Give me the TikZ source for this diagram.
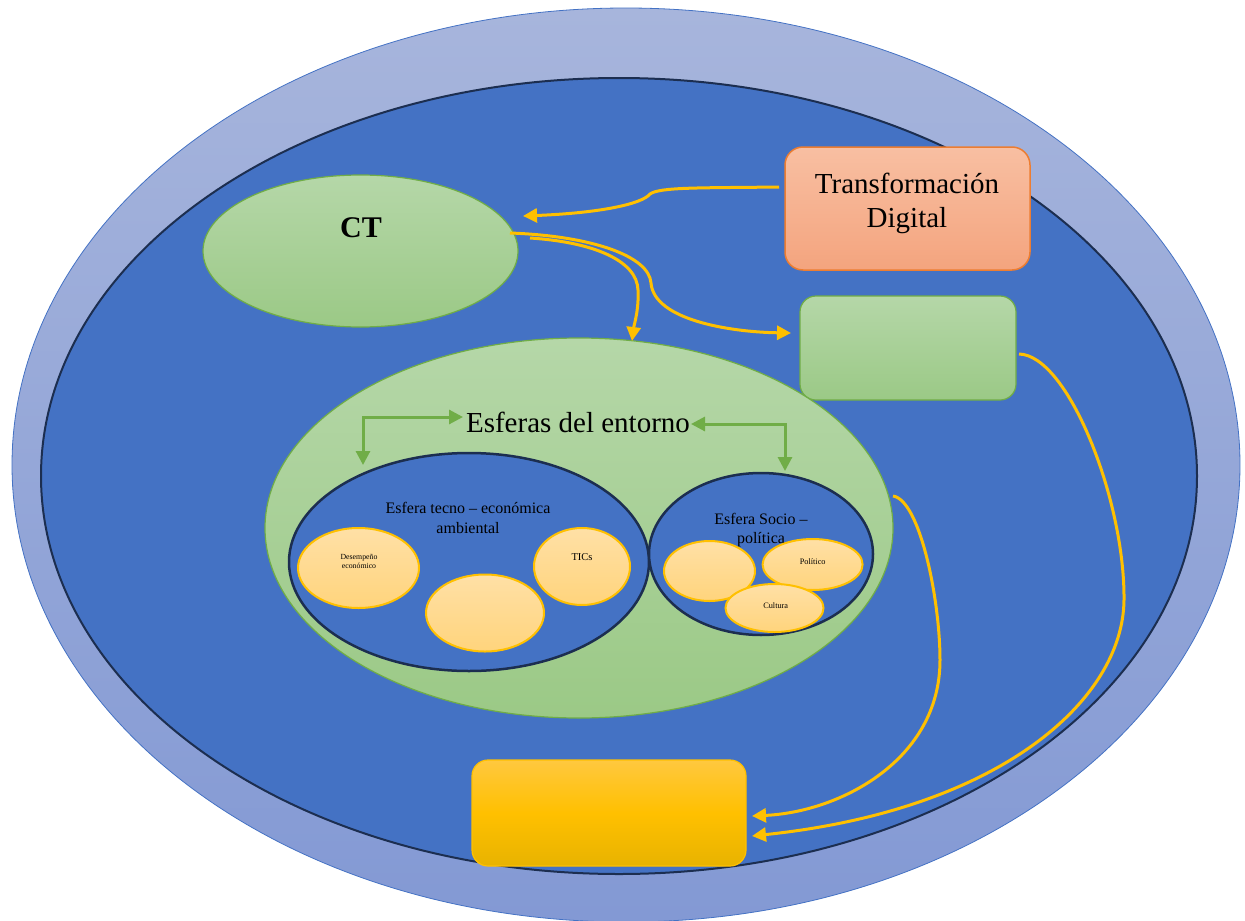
\documentclass[tikz,border=0pt]{standalone}
\usepackage{fontspec}
\setmainfont{Liberation Serif}
\usetikzlibrary{shapes.geometric,arrows.meta}
\definecolor{ringT}{HTML}{A7B5DC}
\definecolor{ringB}{HTML}{8399D4}
\definecolor{blueIn}{HTML}{4472C4}
\definecolor{navy}{HTML}{1C2E50}
\definecolor{gT}{HTML}{B5D7A8}
\definecolor{gB}{HTML}{9BC986}
\definecolor{gBorder}{HTML}{70AD47}
\definecolor{oT}{HTML}{F8BFA2}
\definecolor{oB}{HTML}{F4A47E}
\definecolor{oBorder}{HTML}{ED7D31}
\definecolor{yT}{HTML}{FFC83F}
\definecolor{yM}{HTML}{FFC000}
\definecolor{yB}{HTML}{E8B300}
\definecolor{cT}{HTML}{FFE0A6}
\definecolor{cB}{HTML}{FFD47C}
\definecolor{yArr}{HTML}{FFC000}
\begin{document}
\begin{tikzpicture}[x=1pt,y=-1pt,
  ell/.style={ellipse,inner sep=0pt},
  greenfill/.style={top color=gT,bottom color=gB,draw=gBorder,line width=1.2pt},
  darkell/.style={ellipse,inner sep=0pt,fill=blueIn,draw=navy,line width=2.5pt},
  yel/.style={ellipse,inner sep=0pt,top color=cT,bottom color=cB,draw=yArr,line width=2pt},
  yarrow/.style={draw=yArr,line width=3pt,-{Triangle[length=14pt,width=14pt]}},
  garrow/.style={draw=gBorder,line width=3pt,{Triangle[length=14pt,width=14pt]}-{Triangle[length=14pt,width=14pt]}},
  txt/.style={anchor=base,inner sep=0pt,text=black}]
\useasboundingbox (0,0) rectangle (1245,921);
% background ellipses
\node[ell,minimum width=1228pt,minimum height=914pt,top color=ringT,bottom color=ringB,draw=blueIn,line width=0.8pt] (outer) at (626,465) {};
\node[ell,minimum width=1156pt,minimum height=796pt,fill=blueIn,draw=navy,line width=2pt] (inner) at (619,476) {};
% CT
\node[ell,greenfill,minimum width=315pt,minimum height=152pt] (ct) at (360.5,251) {};
\node[txt,font=\bfseries\fontsize{30}{34}\selectfont] (ctlabel) at (361,237) {CT};
% Transformacion Digital
\node[rectangle,rounded corners=18pt,minimum width=245pt,minimum height=123pt,top color=oT,bottom color=oB,draw=oBorder,line width=1.5pt] (td) at (907.5,208.5) {};
\node[txt,font=\fontsize{29}{34}\selectfont] (td1) at (907,193) {Transformación};
\node[txt,font=\fontsize{29}{34}\selectfont] (td2) at (907,227) {Digital};
% green box
\node[rectangle,rounded corners=16pt,minimum width=216pt,minimum height=104pt,greenfill] (gb) at (908,348) {};
% yellow box
\node[rectangle,rounded corners=16pt,minimum width=274pt,minimum height=106pt,top color=yT,bottom color=yB,middle color=yM,draw=yM,line width=1.2pt] (yb) at (609,813) {};
% Esferas
\node[ell,greenfill,minimum width=628pt,minimum height=380pt] (esf) at (579,528) {};
\node[txt,font=\fontsize{29}{34}\selectfont] (esftext) at (578,432) {Esferas del entorno};
\node[darkell,minimum width=360pt,minimum height=218pt] (tec) at (469,562) {};
\node[darkell,minimum width=224pt,minimum height=162pt] (soc) at (761,554) {};
\node[txt,font=\fontsize{16}{20}\selectfont] (tec1) at (468,513) {Esfera tecno – económica};
\node[txt,font=\fontsize{16}{20}\selectfont] (tec2) at (468,533) {ambiental};
% small ellipses
\node[yel,minimum width=121pt,minimum height=80pt] (des) at (358.5,568) {};
\node[yel,minimum width=118pt,minimum height=77pt] (mid) at (485,613) {};
\node[yel,minimum width=96pt,minimum height=77pt] (tic) at (582,566.5) {};
\node[txt,font=\fontsize{7.8}{9.5}\selectfont] (des1) at (359,559) {Desempeño};
\node[txt,font=\fontsize{7.8}{9.5}\selectfont] (des2) at (359,568.7) {económico};
\node[txt,font=\fontsize{10.5}{12}\selectfont] (tictext) at (582,560) {TICs};
\node[txt,font=\fontsize{16}{20}\selectfont] (soc1) at (761,524) {Esfera Socio –};
\node[txt,font=\fontsize{16}{20}\selectfont] (soc2) at (761,543.5) {política};
\node[yel,minimum width=91pt,minimum height=60pt] (blank) at (709.5,571) {};
\node[yel,minimum width=100pt,minimum height=51pt] (pol) at (812.6,564.5) {};
\node[yel,minimum width=98pt,minimum height=48pt] (cul) at (774.5,608) {};
\node[txt,font=\fontsize{8.3}{10}\selectfont] (poltext) at (812.7,564.3) {Político};
\node[txt,font=\fontsize{8.3}{10}\selectfont] (cultext) at (775.7,608.7) {Cultura};
% green arrows
\coordinate (gl1) at (463,417);
\coordinate (gl2) at (363,465);
\coordinate (gr1) at (691,424);
\coordinate (gr2) at (785,471);
\draw[garrow] (gl1) -| (gl2);
\draw[garrow] (gr1) -| (gr2);
% yellow arrows
\coordinate (a1s) at (779,187);
\coordinate (a1e) at (523,216);
\draw[yarrow] (a1s) .. controls (700,188) and (660,187) .. (650,194) .. controls (642,204) and (600,213) .. (a1e);
\coordinate (a2s) at (530,238);
\coordinate (a2e) at (632,341);
\draw[yarrow] (a2s) .. controls (592,242) and (637,260) .. (638,290) .. controls (639,310) and (634,325) .. (a2e);
\coordinate (a3s) at (510,233);
\coordinate (a3e) at (791,333);
\draw[yarrow] (a3s) .. controls (592,236) and (649,256) .. (651,283) .. controls (654,320) and (730,332) .. (a3e);
\coordinate (a4s) at (893,496);
\coordinate (a4e) at (752,816);
\draw[yarrow] (a4s) .. controls (920,500) and (940,600) .. (940,660) .. controls (940,760) and (840,812) .. (a4e);
\coordinate (a5s) at (1019,354);
\coordinate (a5e) at (752,836);
\draw[yarrow] (a5s) .. controls (1068,355) and (1125,500) .. (1124,600) .. controls (1123,700) and (1000,810) .. (a5e);
\end{tikzpicture}
\end{document}
